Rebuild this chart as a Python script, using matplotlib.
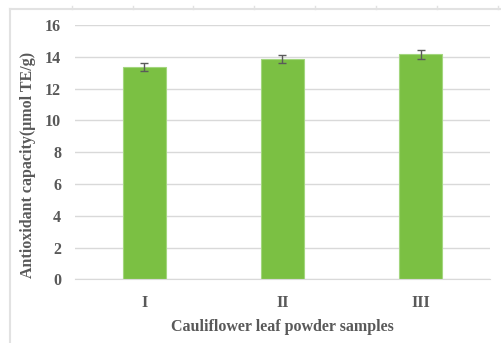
import matplotlib.pyplot as plt
from matplotlib.lines import Line2D

# Data
samples = ['I', 'II', 'III']
capacity = [13.33, 13.86, 14.17]
errors = [0.25, 0.25, 0.28]

plt.rcParams['font.family'] = ['Liberation Serif', 'DejaVu Serif']
text_col = '#595959'

fig = plt.figure(figsize=(5.01, 3.43), dpi=100)
ax = fig.add_axes([0.1497, 0.1857, 0.8283, 0.7413])

x = range(len(samples))
ax.bar(x, capacity, width=0.31, color='#7bc043', edgecolor='#a3d67e', linewidth=0.8,
       zorder=2)
ax.errorbar(x, capacity, yerr=errors, fmt='none', ecolor='#5a5a5a', elinewidth=1,
            capsize=3, capthick=1, zorder=3)

ax.set_xlim(-0.5, 2.5)
ax.set_ylim(0, 16)
ax.set_yticks(range(0, 17, 2))
ax.set_xticks(list(x))
ax.set_xticklabels(samples)
ax.grid(axis='y', color='#d9d9d9', linewidth=1, zorder=0)
ax.set_axisbelow(True)
for s in ['top', 'right', 'left']:
    ax.spines[s].set_visible(False)
ax.spines['bottom'].set_color('#d9d9d9')
ax.tick_params(length=0, labelsize=11.5, labelcolor=text_col, pad=10)
ax.tick_params(axis='x', pad=11)
for lab in ax.get_xticklabels() + ax.get_yticklabels():
    lab.set_fontweight('bold')

ax.set_ylabel('Antioxidant capacity(μmol TE/g)', fontsize=11.5, fontweight='bold',
              color=text_col)
ax.yaxis.set_label_coords(-0.094, 0.451)
ax.set_xlabel('Cauliflower leaf powder samples', fontsize=11.5, fontweight='bold',
              color=text_col, labelpad=6)

# faint screenshot frame with ruler ticks
border = '#e2e2e2'
fig.add_artist(Line2D([10 / 501, 1], [1 - 9 / 343] * 2, color=border, lw=1.5,
                      transform=fig.transFigure))
fig.add_artist(Line2D([10 / 501] * 2, [0, 1 - 9 / 343], color=border, lw=1.5,
                      transform=fig.transFigure))
for px in [72, 133, 193, 254, 315, 376, 437, 498]:
    fig.add_artist(Line2D([px / 501] * 2, [1 - 9 / 343, 1 - 6 / 343], color=border,
                          lw=1, transform=fig.transFigure))

fig.savefig('out.png', dpi=100)
